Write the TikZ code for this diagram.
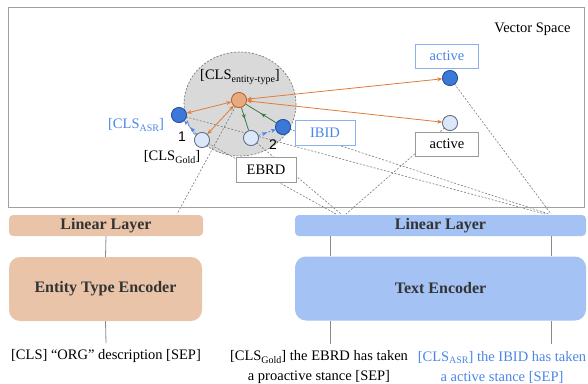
\documentclass[tikz,border=0pt]{standalone}
\usepackage{fontspec}
\setmainfont{Liberation Serif}
\newfontfamily\numfont{Liberation Sans}
\usetikzlibrary{arrows.meta,decorations.markings,calc}
\pgfdeclarelayer{back}
\pgfdeclarelayer{mid}
\pgfsetlayers{back,mid,main}

\definecolor{peach}{HTML}{EAC4A8}
\definecolor{skyblue}{HTML}{A4C2F4}
\definecolor{darktext}{HTML}{333333}
\definecolor{textblue}{HTML}{4A86E8}
\definecolor{tagblue}{HTML}{8AB0F0}
\definecolor{boxgray}{HTML}{9A9A9A}
\definecolor{framegray}{HTML}{A0A0A0}
\definecolor{guidegray}{HTML}{7A7A7A}
\definecolor{linkgray}{HTML}{8A8A8A}
\definecolor{spacegray}{HTML}{D9D9D9}
\definecolor{dotblue}{HTML}{3C78D8}
\definecolor{dotblueline}{HTML}{24509A}
\definecolor{dotlight}{HTML}{DCE8FA}
\definecolor{dotlightline}{HTML}{5B6B85}
\definecolor{dotorange}{HTML}{E9A97E}
\definecolor{dotorangeline}{HTML}{B0652F}
\definecolor{pullorange}{HTML}{E07B39}
\definecolor{pullgreen}{HTML}{3E7A46}

% subscript used in the [CLS_x] tokens
\newcommand\tokidx[1]{\raisebox{-0.4ex}{\fontsize{10}{10}\selectfont #1}}

\tikzset{
  dot/.style={circle, inner sep=0pt, minimum size=15pt, line width=0.7pt},
  darkdot/.style={dot, fill=dotblue, draw=dotblueline},
  lightdot/.style={dot, fill=dotlight, draw=dotlightline},
  typedot/.style={dot, fill=dotorange, draw=dotorangeline},
  guide/.style={draw=guidegray, line width=0.6pt, dash pattern=on 2pt off 1.6pt},
  pull/.style={draw=pullorange, line width=0.8pt, {Stealth[length=5pt,width=4pt]}-{Stealth[length=5pt,width=4pt]}},
  midfwd/.style={postaction={decorate}, decoration={markings,
      mark=at position 0.5 with {\arrow{Stealth[length=5pt,width=4pt]}}}},
  midback/.style={postaction={decorate}, decoration={markings,
      mark=at position 0.5 with {\arrowreversed{Stealth[length=5pt,width=4pt]}}}},
  attract/.style={draw=pullgreen, line width=0.8pt},
  nudge/.style={draw=textblue, line width=0.8pt, dash pattern=on 2pt off 1.5pt,
      -{Stealth[length=4.5pt,width=4pt]}},
  tag/.style={draw=boxgray, fill=white, line width=0.8pt, minimum width=60pt,
      minimum height=25pt, inner sep=0pt, text=black},
  bluetag/.style={tag, draw=tagblue, text=textblue},
  layerbox/.style={rounded corners=4pt, minimum height=21pt, inner sep=0pt,
      font=\fontsize{16}{18}\selectfont\bfseries, text=darktext},
  encbox/.style={rounded corners=11pt, minimum height=64pt, inner sep=0pt,
      font=\fontsize{16}{18}\selectfont\bfseries, text=darktext},
  link/.style={draw=linkgray, line width=0.8pt},
  numlabel/.style={font=\numfont\fontsize{14}{14}\selectfont, text=black},
}

\begin{document}
\begin{tikzpicture}[x=1pt, y=-1pt, font=\fontsize{14.5}{20}\selectfont]
\useasboundingbox (0,0) rectangle (588,383);

% ---------- vector space ----------
\draw[framegray, line width=0.9pt] (8,7) rectangle (584,207);
\node[anchor=east] (vs) at (574,29) {Vector Space};

\begin{pgfonlayer}{back}
  \draw[fill=spacegray, draw=guidegray, line width=0.7pt, dash pattern=on 2pt off 1.6pt]
    (240,104) ellipse [x radius=56, y radius=52];
\end{pgfonlayer}

% embeddings
\node[typedot]  (E) at (239,100) {};
\node[darkdot]  (A) at (179,115) {};
\node[lightdot] (G) at (202,140) {};
\node[lightdot] (N) at (251,138) {};
\node[darkdot]  (I) at (283,127) {};
\node[darkdot]  (T) at (450,78) {};
\node[lightdot] (L) at (450,123) {};

% token labels
\node (lE) at (240,77) {[CLS\tokidx{entity-type}]};
\node[text=textblue] (lA) at (136,125) {[CLS\tokidx{ASR}]};
\node (lG) at (172,157) {[CLS\tokidx{Gold}]};
\node[numlabel] (n1) at (182,137) {1};
\node[numlabel] (n2) at (273,145) {2};

\node[bluetag] (tI) at (325,133) {IBID};
\node[tag, minimum width=60pt] (tE) at (266,170) {EBRD};
\node[bluetag, minimum width=63pt, minimum height=24pt] (tT) at (447,56) {active};
\node[tag, minimum width=63pt, minimum height=24pt] (tL) at (447,144) {active};

% ---------- encoders ----------
\node[layerbox, fill=peach, minimum width=194pt] (ell) at (106,225.5) {Linear Layer};
\node[encbox, fill=peach, minimum width=193pt] (enc) at (105.5,289) {Entity Type Encoder};
\node[layerbox, fill=skyblue, minimum width=291pt] (tll) at (440.5,225.5) {Linear Layer};
\node[encbox, fill=skyblue, minimum width=291pt] (tenc) at (440.5,288.5) {Text Encoder};

\coordinate (colL) at (330,0);
\coordinate (colR) at (551,0);

% input sequences
\node (inE) at (106,356) {[CLS] “ORG” description [SEP]};
\node[align=center] (inG) at (319,367) {[CLS\tokidx{Gold}] the EBRD has taken\\a proactive stance [SEP]};
\node[align=center, text=textblue] (inA) at (502,367) {[CLS\tokidx{ASR}] the IBID has taken\\a active stance [SEP]};

\coordinate (endE) at (106,343);
\coordinate (endL) at (330,344);
\coordinate (endR) at (551,344);

\draw[link] (ell.south) -- (enc.north);
\draw[link] (enc.south) -- (endE);
\draw[link] (tll.south -| colL) -- (tenc.north -| colL);
\draw[link] (tll.south -| colR) -- (tenc.north -| colR);
\draw[link] (tenc.south -| colL) -- (endL);
\draw[link] (tenc.south -| colR) -- (endR);

% projection guides from the linear layers
\coordinate (pE)  at (177,214);
\coordinate (pG)  at (336,214);
\coordinate (pN)  at (341,214);
\coordinate (pL)  at (346,214);
\coordinate (pA)  at (545,214);
\coordinate (pI)  at (549,214);
\coordinate (pT)  at (551,214);

\begin{pgfonlayer}{mid}
  \draw[guide] (E.center) -- (pE);
  \draw[guide] (G.center) -- (pG);
  \draw[guide] (N.center) -- (pN);
  \draw[guide] (L.center) -- (pL);
  \draw[guide] (A.center) -- (pA);
  \draw[guide] (I.center) -- (pI);
  \draw[guide] (T.center) -- (pT);
\end{pgfonlayer}

% entity-type anchoring
\draw[pull] (E) -- (A);
\draw[pull] (E) -- (G);
\draw[pull] (E) -- (T);
\draw[pull] (E) -- (L);
\draw[attract, midfwd] (E) -- (N);
\draw[attract, midback] (E) -- (I);

% ASR / gold alignment
\draw[nudge, midfwd] (G) -- (A);
\draw[nudge, midfwd] (N) -- (I);

% redraw dots on top of the arrows
\node[typedot]  at (E) {};
\node[darkdot]  at (A) {};
\node[lightdot] at (G) {};
\node[lightdot] at (N) {};
\node[darkdot]  at (I) {};
\node[darkdot]  at (T) {};
\node[lightdot] at (L) {};
\end{tikzpicture}
\end{document}
